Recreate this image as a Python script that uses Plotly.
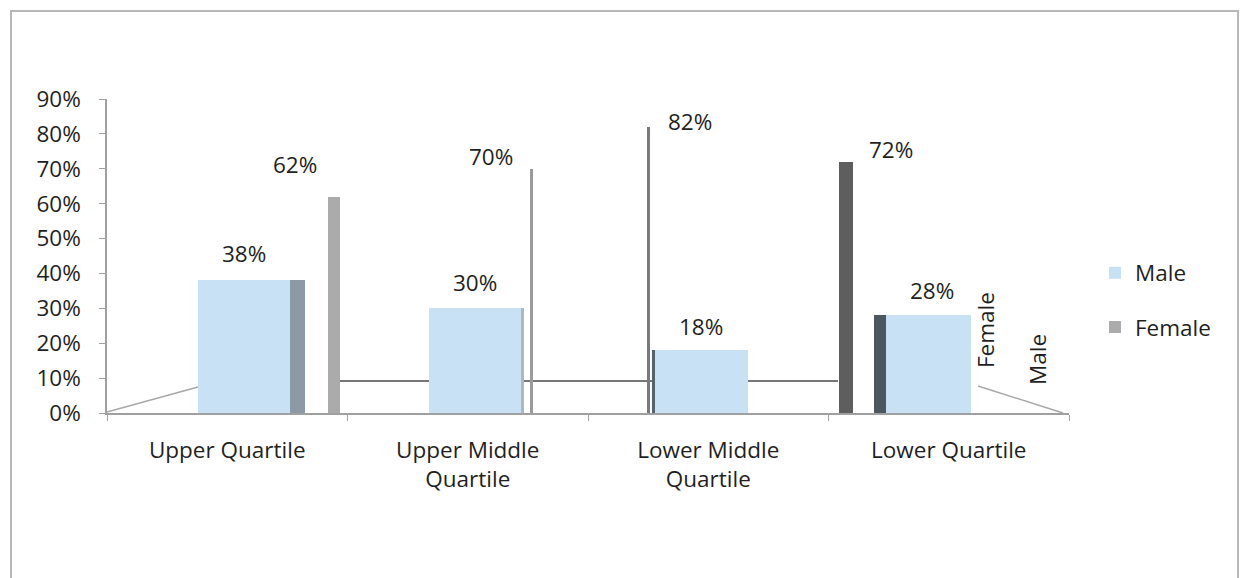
import plotly.graph_objects as go

# Pay-quartile gender split
quartiles = ["Upper Quartile", "Upper Middle<br>Quartile", "Lower Middle<br>Quartile", "Lower Quartile"]
male = [0.38, 0.30, 0.18, 0.28]
female = [0.62, 0.70, 0.82, 0.72]

W, H = 1245, 578
ML, MR, MT, MB = 107, 176, 99, 165
PW, PH = W - ML - MR, H - MT - MB

FONT = "Open Sans"
FS = 22.5
TXT = "#1f1f1f"


def px(x, y):
    """Pixel position -> paper coordinates."""
    return (x - ML) / PW, (H - MB - y) / PH


# placement of the pseudo-3D slabs (category units, relative to the category centre)
male_offset = [-0.121, -0.162, -0.220, -0.262]
male_width = [0.383, 0.383, 0.387, 0.353]
side_offset = [0.262, 0.220, -0.232, -0.312]
side_width = [0.062, 0.012, 0.012, 0.050]
side_color = ["#8d9aa5", "#a9b9c6", "#55646b", "#4b585d"]
fem_offset = [0.420, 0.258, -0.254, -0.457]
fem_width = [0.050, 0.0125, 0.0125, 0.058]
fem_color = ["#ababab", "#9a9a9a", "#7a7a7a", "#5e5e5e"]

# label nudges in pixels
male_lbl_dx = [17, 7, -7, -17]
male_lbl_dy = [27, 26, 24, 25]
fem_lbl_dx = [68, 23, -18, -58]
fem_lbl_dy = [32, 12, 5, 12]

fig = go.Figure()

fig.add_trace(go.Bar(
    x=quartiles, y=male, name="Male", legendgroup="m",
    offset=male_offset, width=male_width,
    marker=dict(color="#c9e1f5", line=dict(width=0)),
    hoverinfo="skip",
))
fig.add_trace(go.Bar(
    x=quartiles, y=male, showlegend=False,
    offset=side_offset, width=side_width,
    marker=dict(color=side_color, line=dict(width=0)),
    hoverinfo="skip",
))
fig.add_trace(go.Bar(
    x=quartiles, y=female, name="Female", legendgroup="f",
    offset=fem_offset, width=fem_width,
    marker=dict(color=fem_color, line=dict(width=0)),
    hoverinfo="skip",
))

annotations = []
for i, q in enumerate(quartiles):
    annotations.append(dict(
        x=q, y=male[i], xref="x", yref="y", text=f"{male[i]:.0%}",
        showarrow=False, xshift=male_lbl_dx[i], yshift=male_lbl_dy[i],
        font=dict(family=FONT, size=FS, color=TXT)))
    annotations.append(dict(
        x=q, y=female[i], xref="x", yref="y", text=f"{female[i]:.0%}",
        showarrow=False, xshift=fem_lbl_dx[i], yshift=fem_lbl_dy[i],
        font=dict(family=FONT, size=FS, color=TXT)))

# series names along the depth axis
for name, (x0, y0) in (("Female", (985, 330)), ("Male", (1037, 360))):
    xp, yp = px(x0, y0)
    annotations.append(dict(
        x=xp, y=yp, xref="paper", yref="paper", text=name, textangle=-90,
        xanchor="center", yanchor="middle",
        showarrow=False, font=dict(family=FONT, size=FS, color=TXT)))

shapes = []


def seg(x0, y0, x1, y1, color, width, layer="above"):
    a, b = px(x0, y0)
    c, d = px(x1, y1)
    shapes.append(dict(type="line", xref="paper", yref="paper",
                       x0=a, y0=b, x1=c, y1=d, layer=layer,
                       line=dict(color=color, width=width)))


# floor edges
seg(107, 412, 198, 387, "#a8a8a8", 1.5)
seg(978, 386, 1063, 413, "#a8a8a8", 1.5)
seg(340, 381, 838, 381, "#4a4a4a", 1.5, layer="below")

# chart frame
fx0, fy0 = px(11, 11)
fx1, fy1 = px(1238, 600)
shapes.append(dict(type="rect", xref="paper", yref="paper",
                   x0=fx0, y0=fy1, x1=fx1, y1=fy0,
                   line=dict(color="#b8b8b8", width=2), layer="below"))

lx, ly = px(1095, 300)

fig.update_layout(
    width=W, height=H,
    margin=dict(l=ML, r=MR, t=MT, b=MB, pad=0),
    paper_bgcolor="white", plot_bgcolor="white",
    barmode="overlay", bargap=0,
    font=dict(family=FONT, size=FS, color=TXT),
    showlegend=True,
    legend=dict(x=lx, y=ly, xanchor="left", yanchor="middle",
                tracegroupgap=22, font=dict(family=FONT, size=FS, color=TXT),
                bgcolor="rgba(0,0,0,0)", itemwidth=30),
    annotations=annotations,
    shapes=shapes,
    xaxis=dict(
        type="category", showgrid=False, zeroline=False,
        showline=True, linecolor="#a0a0a0", linewidth=1.5,
        ticks="outside", tickson="boundaries", ticklen=6, tickcolor="#a0a0a0",
        ticklabelstandoff=16,
        tickfont=dict(family=FONT, size=FS, color=TXT),
        range=[-0.5, 3.5], fixedrange=True,
    ),
    yaxis=dict(
        range=[0, 0.9], dtick=0.1, tickformat=".0%", showgrid=False,
        zeroline=False, showline=True, linecolor="#a0a0a0", linewidth=1.5,
        ticks="outside", ticklen=6, tickcolor="#a0a0a0",
        ticklabelstandoff=14,
        tickfont=dict(family=FONT, size=FS, color=TXT), fixedrange=True,
    ),
)

fig.write_html("out.html")
